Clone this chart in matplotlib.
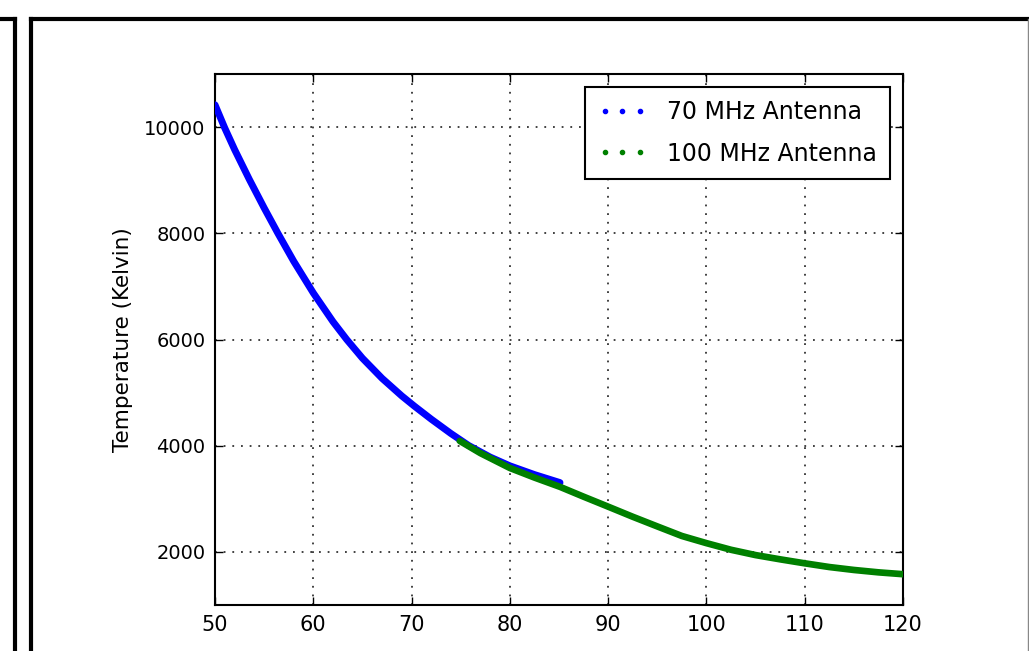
import matplotlib
matplotlib.use("Agg")
import matplotlib.pyplot as plt
from matplotlib.lines import Line2D

# ---- data ----
freq_70 = [50.0, 51.0, 52.0, 53.5, 55.0, 56.4, 58.0, 60.0, 62.0, 63.4, 65.0,
           67.0, 69.0, 70.3, 72.0, 74.0, 75.8, 78.0, 80.0, 82.5, 85.1]
temp_70 = [10420, 9980, 9575, 9012, 8478, 8000, 7476, 6877, 6337, 6000, 5648,
           5268, 4938, 4743, 4500, 4230, 4005, 3785, 3621, 3456, 3305]

freq_100 = [74.9, 77.0, 80.0, 82.5, 85.1, 87.5, 90.0, 92.5, 95.0, 97.5,
            100.0, 102.5, 105.0, 107.5, 110.0, 112.5, 115.0, 117.5, 120.0]
temp_100 = [4090, 3860, 3580, 3400, 3225, 3040, 2852, 2662, 2480, 2300,
            2165, 2040, 1940, 1860, 1785, 1715, 1660, 1615, 1580]

labels = ["70 MHz Antenna", "100 MHz Antenna"]
colors = ["#0000ff", "#008000"]
x_ticks = [50, 60, 70, 80, 90, 100, 110, 120]
y_ticks = [2000, 4000, 6000, 8000, 10000]
y_label = "Temperature (Kelvin)"

W, H = 1029, 651
plt.rcParams['font.family'] = ['DejaVu Sans']
fig = plt.figure(figsize=(W / 100, H / 100), dpi=100, facecolor='white')
ax = fig.add_axes([215 / W, 1 - 605 / H, (903 - 215) / W, (605 - 74) / H])

ax.plot(freq_70, temp_70, '-', color=colors[0], lw=5, solid_capstyle='round',
        solid_joinstyle='round', zorder=3)
ax.plot(freq_100, temp_100, '-', color=colors[1], lw=4.8, solid_capstyle='round',
        solid_joinstyle='round', zorder=3)

ax.set_xlim(50, 120)
ax.set_ylim(1000, 11000)
ax.set_xticks(x_ticks)
ax.set_yticks(y_ticks)
ax.grid(True, color='#333333', linestyle=(0, (1, 3.8)), linewidth=1.3)
ax.tick_params(direction='in', length=6, width=1, top=True, right=True,
               labelsize=15, pad=7)
ax.tick_params(axis='y', labelsize=14)
for s in ax.spines.values():
    s.set_linewidth(1.5)
ax.set_ylabel(y_label, fontsize=15.5, labelpad=8)

handles = [Line2D([], [], color=c, marker='.', linestyle='none', markersize=6)
           for c in colors]
leg = ax.legend(handles, labels, loc='upper right', numpoints=3, fontsize=17,
                handlelength=2.1, handletextpad=0.85, borderpad=0.55,
                labelspacing=0.75, borderaxespad=0.55, fancybox=False,
                framealpha=1, edgecolor='black')
leg.get_frame().set_linewidth(1.5)

# ---- screenshot frame decorations ----
def fline(x0, y0, x1, y1, **kw):
    fig.add_artist(Line2D([x0 / W, x1 / W], [1 - y0 / H, 1 - y1 / H],
                          transform=fig.transFigure, **kw))

fline(0, 18.5, 15, 18.5, color='black', lw=3, solid_capstyle='projecting')
fline(14.5, 18.5, 14.5, 660, color='black', lw=3)
fline(30.5, 18.5, 1029, 18.5, color='black', lw=3, solid_capstyle='projecting')
fline(30.5, 18.5, 30.5, 660, color='black', lw=3)
fline(1028, 18.5, 1028, 660, color='#888888', lw=1)

fig.savefig("out.png", dpi=100, facecolor='white')
